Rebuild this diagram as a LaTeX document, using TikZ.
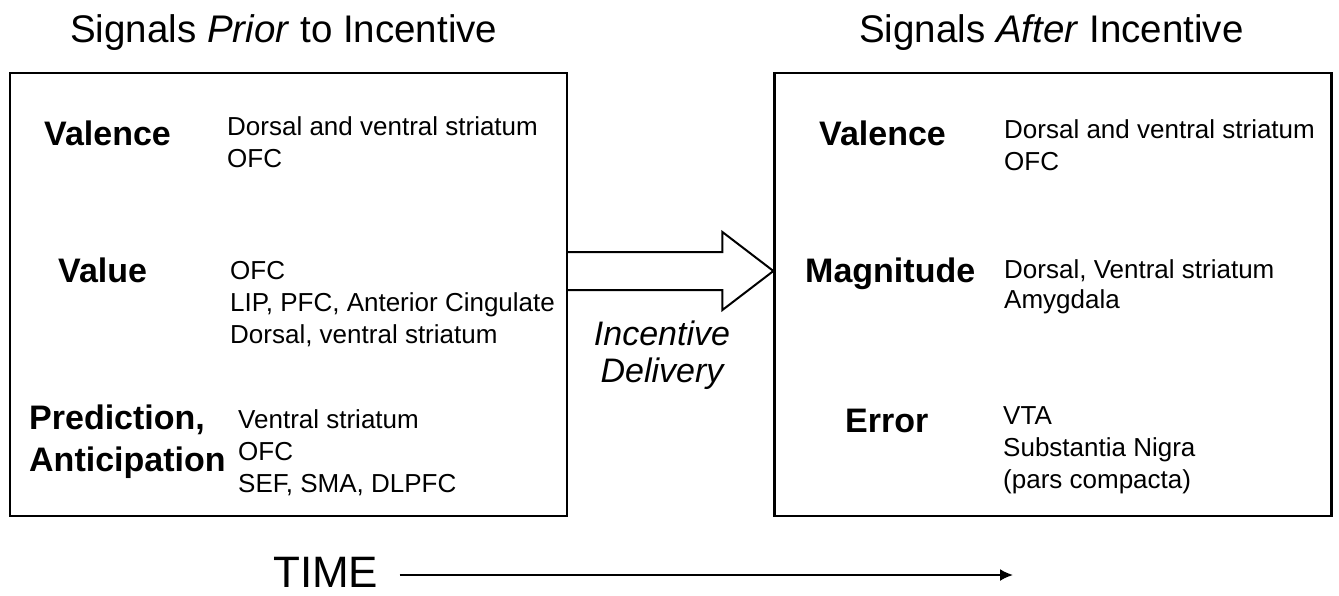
\documentclass[tikz,border=0pt]{standalone}
\usepackage{fontspec}
\setmainfont{Liberation Sans}
\usepackage{tikz}
\usetikzlibrary{calc,arrows.meta}

\begin{document}
\begin{tikzpicture}[x=1pt, y=-1pt, panel/.style={draw, rectangle, line width=2.2pt, minimum width=557pt, minimum height=443pt}, title/.style={anchor=base west, inner sep=0, font=\fontsize{38.5}{46}\selectfont}, lbl/.style={anchor=base west, inner sep=0, font=\bfseries\fontsize{34}{42}\selectfont}, area/.style={anchor=north west, inner sep=0, align=left, font=\fontsize{26}{32}\selectfont}, blk/.style={line width=2pt, line join=miter}, t/.style={-{Latex[length=13pt, width=12pt]}, line width=2pt}]
            \useasboundingbox (0,0) rectangle (1339,595);
            % boxes
            \node[panel] (prior) at (288.5,294.5) {};
            \node[panel] (after) at (1053,294.5) {};
            % titles
            \node[title] (priortitle) at (70,42) {Signals \textit{Prior} to Incentive};
            \node[title] (aftertitle) at (859,42) {Signals \textit{After} Incentive};
            % signals prior
            \node[lbl] (valA) at (44,145) {Valence};
            \node[area] (valAtxt) at (227,116) {Dorsal and ventral striatum\\OFC};
            \node[lbl] (value) at (58,282) {Value};
            \node[area] (valuetxt) at (230,261) {OFC\\LIP, PFC, Anterior Cingulate\\Dorsal, ventral striatum};
            \node[lbl, anchor=north west, align=left] (pred) at (29,405) {Prediction,\\Anticipation};
            \node[area] (predtxt) at (238,409) {Ventral striatum\\OFC\\SEF, SMA, DLPFC};
            % signals after
            \node[lbl] (valB) at (819,145) {Valence};
            \node[area] (valBtxt) at (1004,119) {Dorsal and ventral striatum\\OFC};
            \node[lbl] (magn) at (805,282) {Magnitude};
            \node[area] (magntxt) at (1004,259) {Dorsal, Ventral striatum\\[-2pt]Amygdala};
            \node[lbl] (err) at (845,432) {Error};
            \node[area] (errtxt) at (1003,406) {VTA\\Substantia Nigra\\(pars compacta)};
            % incentive delivery
            \coordinate (tail) at (prior.east |- 0,271);
            \coordinate (tip) at (after.west |- 0,271);
            \draw[blk] ($(tail)+(0,-19)$) -- ($(tip)+(-51,-19)$) -- ($(tip)+(-51,-39)$) -- (tip) -- ($(tip)+(-51,39)$) -- ($(tip)+(-51,19)$) -- ($(tail)+(0,19)$);
            \node[anchor=north, inner sep=0, align=center, font=\itshape\fontsize{34}{37}\selectfont] (deliv) at (662,321) {Incentive\\Delivery};
            % time
            \node[anchor=base west, inner sep=0, font=\fontsize{44}{50}\selectfont] (time) at (273,587) {TIME};
            \coordinate (later) at (1013,575);
            \draw[t] ([xshift=21pt]time.east |- later) -- (later);
        \end{tikzpicture}
\end{document}
